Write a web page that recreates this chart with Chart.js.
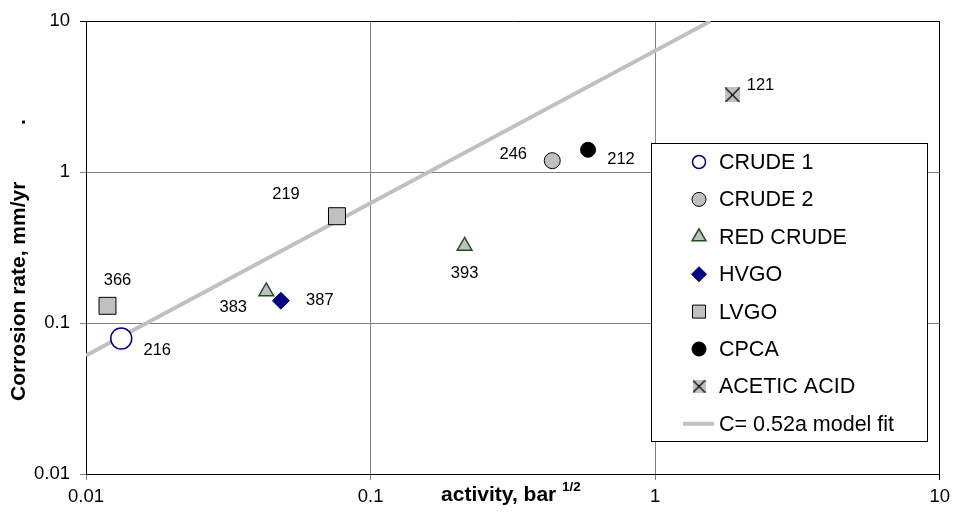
<!DOCTYPE html>
<html>
<head>
<meta charset="utf-8">
<script src="https://cdn.jsdelivr.net/npm/chart.js@4.4.1/dist/chart.umd.min.js"></script>
<style>
  html, body { margin: 0; padding: 0; background: #fff; }
  #wrap { width: 956px; height: 523px; }
</style>
</head>
<body>
<div id="wrap"><canvas id="myChart" width="956" height="523"></canvas></div>
<script>
// activity (bar^1/2) vs corrosion rate (mm/yr), with sample ids
const crude1X = [0.0133], crude1Y = [0.079], crude1Ids = ['216']
const crude2X = [0.435], crude2Y = [1.19], crude2Ids = ['246']
const redCrudeX = [0.043, 0.214], redCrudeY = [0.162, 0.324], redCrudeIds = ['383', '393']
const hvgoX = [0.0484], hvgoY = [0.1405], hvgoIds = ['387']
const lvgoX = [0.0119, 0.0762], lvgoY = [0.130, 0.51], lvgoIds = ['366', '219']
const cpcaX = [0.581], cpcaY = [1.405], cpcaIds = ['212']
const aceticX = [1.87], aceticY = [3.24], aceticIds = ['121']
const fitX = [0.01, 1.566], fitY = [0.061, 10]

const xTicks = [0.01, 0.1, 1, 10]
const xTickLabels = ['0.01', '0.1', '1', '10']
const yTicks = [0.01, 0.1, 1, 10]
const yTickLabels = ['0.01', '0.1', '1', '10']

const pts = (xs, ys) => xs.map((x, i) => ({ x: x, y: ys[i] }))

// label offsets from each point, px
const labelOffsets = {
    'CRUDE 1': [[36, 12]],
    'CRUDE 2': [[-39, -6]],
    'RED CRUDE': [[-33, 16], [0, 27]],
    'HVGO': [[39, 0]],
    'LVGO': [[10, -25], [-51, -22]],
    'CPCA': [[33, 10]],
    'ACETIC ACID': [[28, -10]]
}

// grey square with a cross for acetic acid
const crossBox = (size) => {
    const c = document.createElement('canvas')
    c.width = size; c.height = size
    const g = c.getContext('2d')
    g.fillStyle = '#c0c0c0'
    g.fillRect(0, 0, size, size)
    g.strokeStyle = '#000'
    g.lineWidth = 1.2
    g.beginPath()
    g.moveTo(0.5, 0.5); g.lineTo(size - 0.5, size - 0.5)
    g.moveTo(size - 0.5, 0.5); g.lineTo(0.5, size - 0.5)
    g.stroke()
    return c
}
const aceticMark = crossBox(15)
const aceticLegendMark = crossBox(13)

const datasets = [
    { label: 'CRUDE 1', data: pts(crude1X, crude1Y), ids: crude1Ids, pointStyle: 'circle', pointRadius: 10.5,
      backgroundColor: '#fff', borderColor: '#000080', pointBorderWidth: 1.5 },
    { label: 'CRUDE 2', data: pts(crude2X, crude2Y), ids: crude2Ids, pointStyle: 'circle', pointRadius: 8,
      backgroundColor: '#c0c0c0', borderColor: '#000', pointBorderWidth: 1 },
    { label: 'RED CRUDE', data: pts(redCrudeX, redCrudeY), ids: redCrudeIds, pointStyle: 'triangle', pointRadius: 8.5,
      backgroundColor: '#c0c0c0', borderColor: '#1f4f1f', pointBorderWidth: 1.5 },
    { label: 'HVGO', data: pts(hvgoX, hvgoY), ids: hvgoIds, pointStyle: 'rectRot', pointRadius: 8.5,
      backgroundColor: '#000080', borderColor: '#000080', pointBorderWidth: 1 },
    { label: 'LVGO', data: pts(lvgoX, lvgoY), ids: lvgoIds, pointStyle: 'rect', pointRadius: 12,
      backgroundColor: '#c0c0c0', borderColor: '#000', pointBorderWidth: 1 },
    { label: 'CPCA', data: pts(cpcaX, cpcaY), ids: cpcaIds, pointStyle: 'circle', pointRadius: 7.5,
      backgroundColor: '#000', borderColor: '#000', pointBorderWidth: 1 },
    { label: 'ACETIC ACID', data: pts(aceticX, aceticY), ids: aceticIds, pointStyle: aceticMark, pointRadius: 8,
      backgroundColor: '#c0c0c0', borderColor: '#000' },
    { label: 'C= 0.52a model fit', data: pts(fitX, fitY), showLine: true, pointRadius: 0,
      borderColor: '#c0c0c0', borderWidth: 4, backgroundColor: '#c0c0c0' }
]

const FONT = '"Liberation Sans", Arial, sans-serif'

const pointLabels = {
    id: 'pointLabels',
    afterDatasetsDraw(chart) {
        const ctx = chart.ctx
        ctx.save()
        ctx.font = '16.5px ' + FONT
        ctx.fillStyle = '#000'
        ctx.textAlign = 'center'
        ctx.textBaseline = 'middle'
        chart.data.datasets.forEach((ds, di) => {
            if (!ds.ids) return
            const meta = chart.getDatasetMeta(di)
            meta.data.forEach((el, i) => {
                const off = labelOffsets[ds.label][i]
                ctx.fillText(ds.ids[i], el.x + off[0], el.y + off[1])
            })
        })
        ctx.restore()
    }
}

const drawMark = (ctx, ds, x, y) => {
    ctx.fillStyle = ds.backgroundColor
    ctx.strokeStyle = ds.borderColor
    ctx.lineWidth = ds.pointBorderWidth || 1
    ctx.beginPath()
    if (ds.showLine) {
        ctx.lineWidth = 4
        ctx.moveTo(x - 16, y); ctx.lineTo(x + 15, y)
        ctx.stroke()
        return
    }
    if (ds.pointStyle === aceticMark) {
        ctx.drawImage(aceticLegendMark, x - 6.5, y - 6.5)
        return
    }
    if (ds.pointStyle === 'circle') {
        ctx.arc(x, y, ds.label === 'CRUDE 1' ? 6.5 : 7, 0, Math.PI * 2)
    } else if (ds.pointStyle === 'triangle') {
        const r = 8
        ctx.moveTo(x, y - r)
        ctx.lineTo(x + r * 0.866, y + r * 0.5)
        ctx.lineTo(x - r * 0.866, y + r * 0.5)
        ctx.closePath()
    } else if (ds.pointStyle === 'rectRot') {
        const r = 7.5
        ctx.moveTo(x - r, y); ctx.lineTo(x, y - r); ctx.lineTo(x + r, y); ctx.lineTo(x, y + r)
        ctx.closePath()
    } else if (ds.pointStyle === 'rect') {
        ctx.rect(x - 6.5, y - 6.5, 13, 13)
    }
    ctx.fill()
    ctx.stroke()
}

const boxLegend = {
    id: 'boxLegend',
    afterDraw(chart) {
        const ctx = chart.ctx
        const left = 651, top = 143, w = 276, h = 298
        ctx.save()
        ctx.fillStyle = '#fff'
        ctx.fillRect(left, top, w, h)
        ctx.strokeStyle = '#000'
        ctx.lineWidth = 1
        ctx.strokeRect(left + 0.5, top + 0.5, w, h)
        ctx.font = '21.5px ' + FONT
        ctx.textBaseline = 'middle'
        chart.data.datasets.forEach((ds, i) => {
            const y = 162 + i * 37.4
            drawMark(ctx, ds, 699, y)
            ctx.fillStyle = '#000'
            ctx.textAlign = 'left'
            ctx.fillText(ds.label, 719, y + 1)
        })
        ctx.restore()
    }
}

const axisTitles = {
    id: 'axisTitles',
    afterDraw(chart) {
        const ctx = chart.ctx
        ctx.save()
        ctx.fillStyle = '#000'
        ctx.font = 'bold 21px ' + FONT
        ctx.textBaseline = 'middle'
        ctx.textAlign = 'left'
        ctx.translate(19, 401)
        ctx.rotate(-Math.PI / 2)
        const yt = 'Corrosion rate, mm/yr'
        ctx.fillText(yt, 0, 0)
        ctx.fillText('.', 401 - 125, 0)
        ctx.restore()

        ctx.save()
        ctx.fillStyle = '#000'
        ctx.textBaseline = 'alphabetic'
        ctx.textAlign = 'left'
        ctx.font = 'bold 21px ' + FONT
        const main = 'activity, bar '
        const mw = ctx.measureText(main).width
        ctx.font = 'bold 13.5px ' + FONT
        const sw = ctx.measureText('1/2').width
        const x0 = 511 - (mw + sw) / 2
        ctx.font = 'bold 21px ' + FONT
        ctx.fillText(main, x0, 501)
        ctx.font = 'bold 13.5px ' + FONT
        ctx.fillText('1/2', x0 + mw, 491)
        ctx.restore()
    }
}

const gridColor = (c) => (c.tick && c.tick.value === 10) ? '#000' : '#808080'

const config = {
    type: 'scatter',
    data: { datasets: datasets },
    options: {
        responsive: false,
        animation: false,
        events: [],
        layout: { padding: { top: 19, right: 13, left: 0, bottom: 0 } },
        plugins: {
            legend: { display: false },
            tooltip: { enabled: false }
        },
        scales: {
            x: {
                type: 'logarithmic',
                min: 0.01,
                max: 10,
                afterBuildTicks: (s) => { s.ticks = xTicks.map(v => ({ value: v })) },
                afterFit: (s) => { s.height = 49 },
                ticks: {
                    autoSkip: false,
                    maxRotation: 0,
                    padding: 6,
                    color: '#000',
                    font: { size: 18.5, family: FONT },
                    callback: (v, i) => xTickLabels[i]
                },
                grid: { color: gridColor, lineWidth: 1, tickLength: 6, drawTicks: true },
                border: { color: '#000', width: 1 }
            },
            y: {
                type: 'logarithmic',
                min: 0.01,
                max: 10,
                afterBuildTicks: (s) => { s.ticks = yTicks.map(v => ({ value: v })) },
                afterFit: (s) => { s.width = 86 },
                ticks: {
                    autoSkip: false,
                    padding: 10,
                    color: '#000',
                    font: { size: 18.5, family: FONT },
                    callback: (v, i) => yTickLabels[i]
                },
                grid: { color: gridColor, lineWidth: 1, tickLength: 6, drawTicks: true },
                border: { color: '#000', width: 1 }
            }
        }
    },
    plugins: [pointLabels, boxLegend, axisTitles]
}

const myChart = new Chart(document.getElementById('myChart'), config)
</script>
</body>
</html>
